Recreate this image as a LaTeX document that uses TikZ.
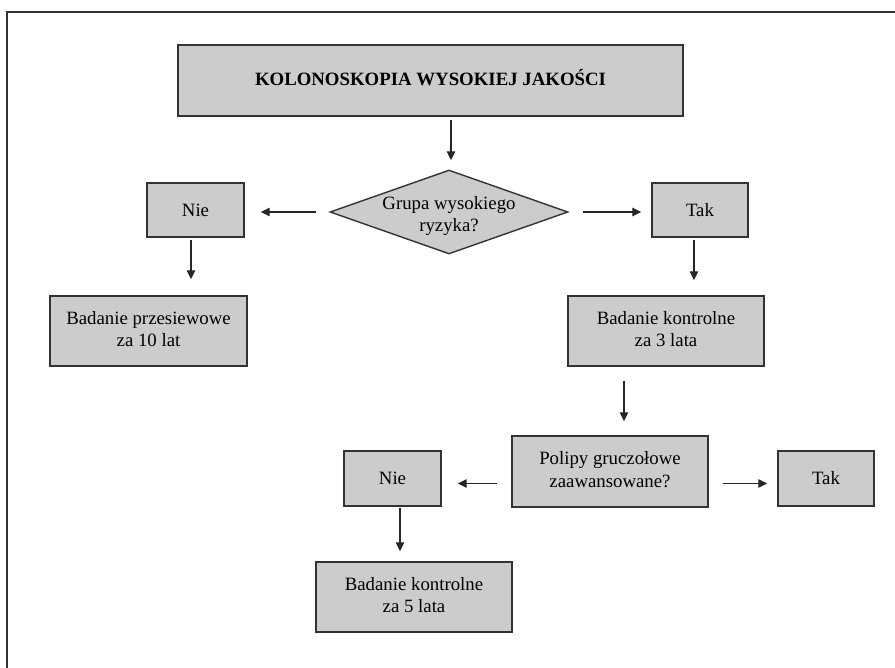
\documentclass[tikz,border=0pt]{standalone}
\usepackage{fontspec}
\setmainfont{Liberation Serif}
\usetikzlibrary{arrows.meta,calc,shapes.geometric}
\definecolor{boxfill}{HTML}{CCCCCC}
\definecolor{boxline}{HTML}{333333}
\newcommand{\uptext}[2]{\raisebox{#1}{\begin{tabular}{@{}c@{}}#2\end{tabular}}}
\begin{document}
\begin{tikzpicture}[x=1pt,y=-1pt,
  every node/.style={font=\fontsize{18.8}{22.3}\selectfont},
  box/.style={draw=boxline,fill=boxfill,line width=1.4pt,inner sep=0pt,rectangle},
  dia/.style={draw=boxline,fill=boxfill,line width=1.4pt,inner sep=0pt,diamond,
    minimum width=238pt,minimum height=84pt},
  arr/.style={draw=black!85,line width=1.3pt,-{Triangle[length=9pt,width=8.5pt]}}]
\useasboundingbox (0,0) rectangle (895,668);
\fill[white] (0,0) rectangle (895,668);
% outer frame (cut at the right and bottom)
\draw[boxline,line width=1.6pt] (895,12) -- (7,12) -- (7,668);

\node[box,minimum width=505pt,minimum height=71pt] (title) at (430.5,80.5)
  {\uptext{2pt}{\bfseries KOLONOSKOPIA WYSOKIEJ JAKOŚCI}};
\node[dia,label={[yshift=-4pt]center:{\uptext{0pt}{Grupa wysokiego\\ryzyka?}}}] (d) at (449,212) {};
\node[box,minimum width=97pt,minimum height=54pt] (nie1) at (195.5,210) {Nie};
\node[box,minimum width=96pt,minimum height=54pt] (tak1) at (700,210) {Tak};
\node[box,minimum width=197pt,minimum height=70pt] (bp) at (148.5,331)
  {\uptext{7pt}{Badanie przesiewowe\\za 10 lat}};
\node[box,minimum width=196pt,minimum height=70pt] (bk3) at (666,331)
  {\uptext{7pt}{Badanie kontrolne\\za 3 lata}};
\node[box,minimum width=196pt,minimum height=71pt] (pol) at (610,471.5)
  {\uptext{4pt}{Polipy gruczołowe\\zaawansowane?}};
\node[box,minimum width=97pt,minimum height=55pt] (nie2) at (392.5,478.5) {Nie};
\node[box,minimum width=96pt,minimum height=55pt] (tak2) at (826,478.5) {Tak};
\node[box,minimum width=196pt,minimum height=70pt] (bk5) at (414,597)
  {\uptext{7pt}{Badanie kontrolne\\za 5 lata}};

\draw[arr] ($(title.south -| d.north)+(2,3)$) -- ($(d.north)+(2,-9)$);
\draw[arr] ($(d.west)+(-13,0)$) -- ($(nie1.east |- d.west)+(16,0)$);
\draw[arr] ($(d.east)+(14,0)$) -- ($(tak1.west |- d.east)+(-10,0)$);
\draw[arr] ($(nie1.south)+(-4.5,2)$) -- ($(nie1.south |- bp.north)+(-4.5,-16)$);
\draw[arr] ($(tak1.south)+(-6,2)$) -- ($(tak1.south |- bk3.north)+(-6,-15)$);
\draw[arr] ($(bk3.south -| pol.north)+(14,14)$) -- ($(pol.north)+(14,-14)$);
\draw[arr] ($(pol.west |- nie2.east)+(-14,5)$) -- ($(nie2.east)+(16,5)$);
\draw[arr] ($(pol.east |- tak2.west)+(14,5)$) -- ($(tak2.west)+(-10,5)$);
\draw[arr] ($(nie2.south)+(7.5,1)$) -- ($(nie2.south |- bk5.north)+(7.5,-10)$);
\end{tikzpicture}
\end{document}
